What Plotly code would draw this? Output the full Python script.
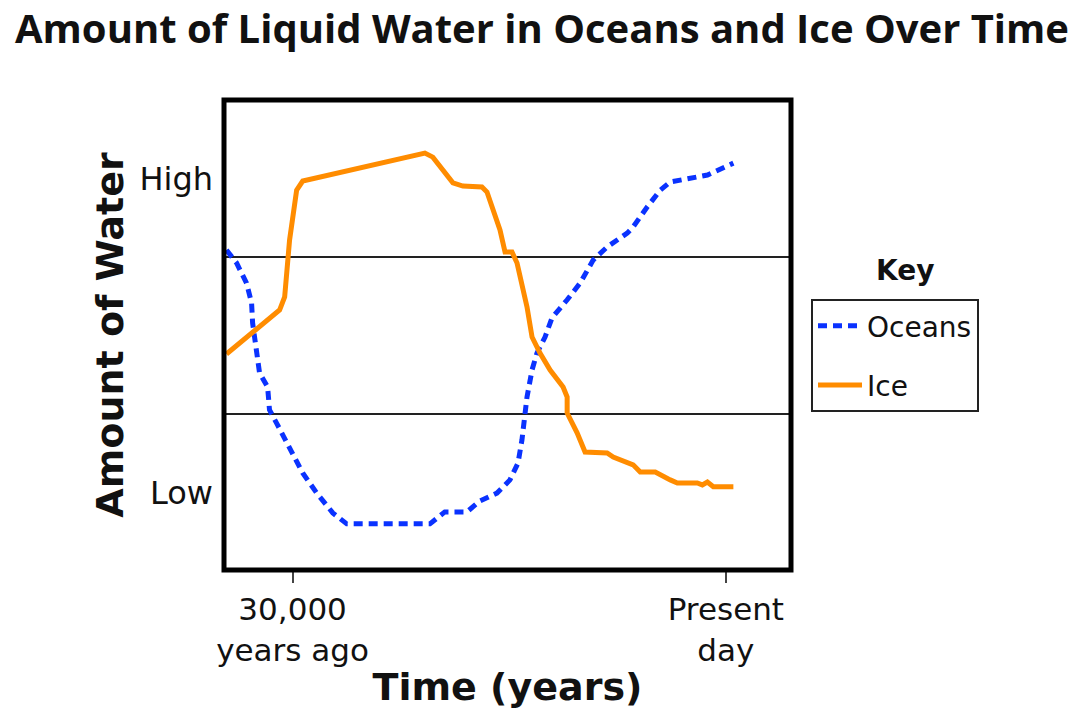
import plotly.graph_objects as go

# Time in thousands of years relative to present (negative = past)
ocean_time = [-34.58, -33.88, -33.19, -32.84, -32.77, -32.50, -32.29, -31.73, -31.60, -31.11,
              -30.42, -29.86, -29.30, -28.33, -27.22, -26.25, -20.49, -19.46, -17.93, -17.03,
              -15.85, -14.95, -14.39, -14.12, -13.91, -13.77, -13.42, -13.08, -12.52, -12.04,
              -11.00, -10.09, -9.19, -8.22, -6.83, -6.42, -5.45, -4.54, -3.85, -2.67, -1.28, 0.52]
ocean_amount = [0.772, 0.731, 0.667, 0.604, 0.540, 0.432, 0.381, 0.336, 0.263, 0.221,
                0.158, 0.113, 0.062, -0.002, -0.065, -0.100, -0.100, -0.062, -0.062, -0.027,
                -0.002, 0.040, 0.094, 0.167, 0.240, 0.304, 0.390, 0.444, 0.495, 0.556,
                0.613, 0.667, 0.740, 0.782, 0.826, 0.846, 0.909, 0.963, 0.989, 0.998, 1.011, 1.049]

ice_time = [-34.58, -30.90, -30.55, -30.21, -29.72, -29.30, -20.84, -20.29, -18.90, -18.21,
            -16.89, -16.54, -15.64, -15.29, -14.81, -14.46, -13.77, -13.42, -12.87, -12.17,
            -11.27, -10.99, -10.99, -10.30, -9.75, -8.22, -7.80, -6.42, -5.93, -4.89,
            -3.85, -3.36, -1.98, -1.63, -1.28, -0.87, 0.52]
ice_amount = [0.441, 0.581, 0.623, 0.804, 0.963, 0.992, 1.081, 1.068, 0.986, 0.976,
              0.973, 0.957, 0.836, 0.766, 0.766, 0.731, 0.591, 0.495, 0.444, 0.390,
              0.336, 0.304, 0.253, 0.190, 0.129, 0.126, 0.113, 0.088, 0.065, 0.065,
              0.040, 0.030, 0.030, 0.024, 0.033, 0.018, 0.018]

x_tick_vals = [-30, 0]
x_tick_text = ["30,000<br>years ago", "Present<br>day"]
y_tick_vals = [0, 1]
y_tick_text = ["Low", "High"]
y_grid_vals = [0.25, 0.75]

fig = go.Figure()
fig.add_trace(go.Scatter(x=ocean_time, y=ocean_amount, mode="lines", name="Oceans",
                         legendgroup="a",
                         line=dict(color="#0a32ff", width=5, dash="9px,6px")))
fig.add_trace(go.Scatter(x=ice_time, y=ice_amount, mode="lines", name="Ice",
                         legendgroup="b",
                         line=dict(color="#ff8c00", width=5)))

fig.update_layout(
    width=1084, height=724, autosize=False,
    margin=dict(l=224, r=293, t=100, b=154),
    paper_bgcolor="white", plot_bgcolor="white",
    title=dict(text="<b>Amount of Liquid Water in Oceans and Ice Over Time</b>",
               x=0.5, xanchor="center", y=1 - 29 / 724, yanchor="middle",
               font=dict(family="Open Sans", size=40, color="#111")),
    font=dict(family="DejaVu Sans", color="#111"),
    showlegend=True,
    legend=dict(x=(811 - 224) / 567, xanchor="left", y=(570 - 299) / 470, yanchor="top",
                bordercolor="#222", borderwidth=2, bgcolor="white",
                font=dict(family="DejaVu Sans", size=28, color="#111"),
                traceorder="grouped", tracegroupgap=20, itemwidth=44),
    annotations=[dict(text="<b>Key</b>", xref="paper", yref="paper",
                      x=(905 - 224) / 567, y=(570 - 270) / 470, xanchor="center", yanchor="middle",
                      showarrow=False, font=dict(family="DejaVu Sans", size=28, color="#111"))],
    shapes=[dict(type="rect", xref="paper", yref="paper", x0=0, x1=1, y0=0, y1=1,
                 line=dict(color="black", width=5), layer="above")],
)

fig.update_xaxes(range=[-34.75, 4.51], tickmode="array", tickvals=x_tick_vals,
                 ticktext=x_tick_text, ticks="outside", ticklen=12, tickwidth=2,
                 tickcolor="#444", showgrid=False, zeroline=False, showline=False,
                 tickfont=dict(family="DejaVu Sans", size=31, color="#111"),
                 title=dict(text="<b>Time (years)</b>", standoff=6,
                            font=dict(family="DejaVu Sans", size=38, color="#111")))
fig.update_yaxes(range=[-0.247, 1.25], tickmode="array", tickvals=y_tick_vals,
                 ticktext=y_tick_text, ticks="", ticklabelstandoff=10,
                 showgrid=False, zeroline=False, showline=False,
                 minor=dict(tickvals=y_grid_vals, showgrid=True, gridcolor="#222",
                            gridwidth=1.5, ticks=""),
                 tickfont=dict(family="DejaVu Sans", size=32, color="#111"),
                 title=dict(text="<b>Amount of Water</b>", standoff=4,
                            font=dict(family="DejaVu Sans", size=38, color="#111")))

fig.write_html("out.html")
